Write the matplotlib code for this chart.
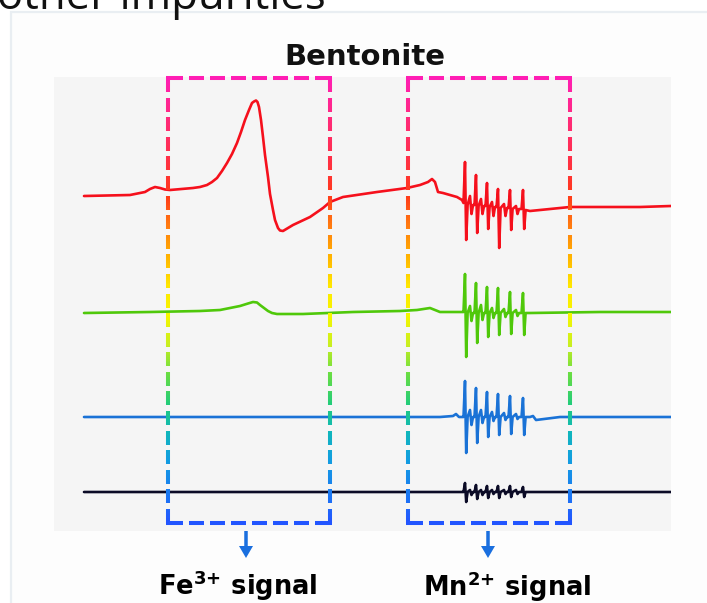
import numpy as np
import matplotlib
matplotlib.use("Agg")
import matplotlib.pyplot as plt
from matplotlib.collections import LineCollection
from matplotlib.colors import LinearSegmentedColormap, to_rgb
from matplotlib.patches import FancyArrow

plt.rcParams["mathtext.fontset"] = "dejavusans"

# ---------------------------------------------------------------- data
# EPR traces of bentonite fractions, (field, signal) with the signal axis
# pointing downwards, each trace sitting at its own vertical offset.
red_field = [84, 130, 145, 150, 155, 160, 165, 170, 193, 200, 207, 212, 217,
             222, 227, 232, 237, 241, 245, 249, 252, 254, 256, 257.5, 259,
             261, 263, 265, 268, 270, 273, 275, 278, 280, 283, 288, 293, 310,
             323, 330, 343, 377, 407, 420, 428, 432, 435, 438, 443, 457, 462]
red_signal = [196, 195, 192, 189, 187, 188, 189.5, 190, 188, 187, 185, 182,
              178, 171, 163, 154, 143, 132, 120, 110, 103, 101.5, 100.5, 102,
              107, 120, 137, 155, 177, 194, 210, 220, 228, 230.5, 231, 228,
              225, 217, 208, 202, 197, 192, 188, 185, 182, 179, 182, 192, 193,
              197, 200]
red_tail_field = [530, 550, 570, 600, 640, 671]
red_tail_signal = [211, 209, 207, 207, 207, 206]

green_field = [84, 150, 200, 220, 240, 248, 253, 257, 260, 264, 268, 272, 277,
               303, 353, 400, 417, 430, 440, 462]
green_signal = [313, 312, 311, 310, 306, 303.5, 302, 302.5, 305, 308, 311,
                313, 314, 314, 312, 311, 310, 308, 312, 312]
green_tail_field = [530, 600, 671]
green_tail_signal = [313, 312, 312]

blue_field = [84, 300, 440, 453, 456, 459, 462]
blue_signal = [417, 417, 417, 416, 414, 417, 417]
blue_tail_field = [530, 533, 536, 560, 671]
blue_tail_signal = [417, 416, 420, 417, 417]

black_field = [84, 300, 462]
black_signal = [492, 492, 492]
black_tail_field = [530, 671]
black_tail_signal = [492, 492]

# Mn2+ hyperfine sextet: line positions, upper and lower extremes
mn_pos = [465, 476, 487, 498, 510, 523]
red_top = [162, 175, 183, 189, 190, 190]
red_bot = [240, 233, 229, 248, 230, 229]
green_top = [274, 283, 287, 288, 292, 293]
green_bot = [357, 343, 337, 335, 334, 335]
blue_top = [381, 388, 392, 394, 396, 398]
blue_bot = [453, 443, 437, 435, 434, 435]
black_top = [483, 485, 486, 486, 486, 487]
black_bot = [502, 499, 498, 498, 497, 497]

# baseline level under the sextet and the weak lines between main lines
red_mid = [203, 205, 206, 207, 208, 209, 210]
red_weak = [(470, 196, 214), (481, 199, 214), (492, 202, 216), (504, 204, 216), (516, 206, 214)]
green_mid = [312, 313, 313, 313, 313, 313, 313]
green_weak = [(470, 306, 321), (481, 305, 320), (492, 308, 318), (504, 309, 317), (516, 310, 316)]
blue_mid = [417, 417, 417, 417, 417, 417, 417]
blue_weak = [(470, 410, 425), (481, 410, 423), (492, 412, 421), (504, 413, 420), (516, 414, 419)]
black_mid = [492, 492, 492, 492, 492, 492, 492]
black_weak = [(470, 490, 495), (481, 490, 495), (492, 490, 494), (504, 490, 494), (516, 490, 494)]

# field windows of the two signals
fe_window = (168, 330)
mn_window = (408, 570)
window_span = (78, 523)

colors = {"red": "#f5101c", "green": "#4fc80a", "blue": "#1a72d6", "black": "#0b0b26"}

# colour ramp of the window frames, listed against the signal axis
ramp_levels = [77, 120, 160, 195, 225, 255, 285, 315, 345, 375, 405, 430, 460, 490, 523]
ramp_colors = ["#ff1eb4", "#ff2a78", "#ff3044", "#ff3a1a", "#ff7a10", "#ffb000",
               "#ffe600", "#f6f600", "#c8ee20", "#66dd44", "#22cc7a", "#10b8b8",
               "#129ee0", "#1a7ff0", "#2255ff"]


def sextet(field, signal, top, bot, mid, weak, tail_f, tail_s):
    f = list(field)
    s = list(signal)
    weak_iter = iter(weak)
    for i, (p, t, b) in enumerate(zip(mn_pos, top, bot)):
        f += [p - 1.5, p, p + 1.2, p + 2.6]
        s += [mid[i], t, b, mid[i + 1]]
        w = next(weak_iter, None)
        if w is not None:
            f += [w[0], w[0] + 1.5, w[0] + 3]
            s += [w[1], w[2], mid[i + 1]]
    f += list(tail_f)
    s += list(tail_s)
    return np.array(f), np.array(s)


fig = plt.figure(figsize=(7.07, 6.03), dpi=100)
fig.patch.set_facecolor("white")

# page overlay in pixel units
page = fig.add_axes([0, 0, 1, 1])
page.set_xlim(0, 707)
page.set_ylim(603, 0)
page.axis("off")
page.add_patch(plt.Rectangle((12, 13), 700, 600, facecolor="#fdfdfd", edgecolor="none", zorder=0))
page.plot([11, 11, 720], [620, 12, 12], color="#e9eef2", lw=1.6, solid_joinstyle="miter")
page.text(-3, 9, "other impurities", fontsize=31.5, family="Open Sans", color="#111111",
          va="baseline", ha="left")

ax = fig.add_axes([54 / 707, (603 - 531) / 603, 617 / 707, 454 / 603])
ax.set_facecolor("#f5f5f5")
ax.set_xlim(54, 671)
ax.set_ylim(531, 77)
for sp in ax.spines.values():
    sp.set_visible(False)
ax.set_xticks([])
ax.set_yticks([])

traces = [
    ("red", red_field, red_signal, red_top, red_bot, red_mid, red_weak, red_tail_field, red_tail_signal),
    ("green", green_field, green_signal, green_top, green_bot, green_mid, green_weak, green_tail_field, green_tail_signal),
    ("blue", blue_field, blue_signal, blue_top, blue_bot, blue_mid, blue_weak, blue_tail_field, blue_tail_signal),
    ("black", black_field, black_signal, black_top, black_bot, black_mid, black_weak, black_tail_field, black_tail_signal),
]
for name, fld, sig, top, bot, mid, weak, tf, ts in traces:
    x, y = sextet(fld, sig, top, bot, mid, weak, tf, ts)
    ax.plot(x, y, color=colors[name], lw=1.9, solid_joinstyle="round",
            solid_capstyle="round", zorder=3)

# gradient dashed frames
cmap = LinearSegmentedColormap.from_list(
    "frame", [((v - ramp_levels[0]) / (ramp_levels[-1] - ramp_levels[0]), to_rgb(c))
              for v, c in zip(ramp_levels, ramp_colors)])


def ramp(yv):
    return cmap((np.clip(yv, ramp_levels[0], ramp_levels[-1]) - ramp_levels[0])
                / (ramp_levels[-1] - ramp_levels[0]))


def dashes(a, b, on=14.0, off=6.0):
    length = b - a
    n = max(1, int(round((length + off) / (on + off))))
    gap = (length - n * on) / (n - 1) if n > 1 else 0
    return [(a + k * (on + gap), a + k * (on + gap) + on) for k in range(n)]


lw_frame = 2.9
half = 2.0
for x0, x1 in (fe_window, mn_window):
    y0, y1 = window_span
    segs, cols = [], []
    for xv in (x0, x1):
        for a, b in dashes(y0, y1):
            ys = np.arange(a, b, 1.0)
            for ya in ys:
                yb = min(ya + 1.0, b)
                segs.append([(xv, ya), (xv, yb)])
                cols.append(ramp((ya + yb) / 2))
    for yv in (y0, y1):
        for a, b in dashes(x0, x1, on=15.0, off=6.0):
            aa = a - half if a <= x0 + 0.1 else a
            bb = b + half if b >= x1 - 0.1 else b
            segs.append([(aa, yv), (bb, yv)])
            cols.append(ramp(yv))
    lc = LineCollection(segs, colors=cols, linewidths=lw_frame, capstyle="butt",
                        zorder=4, clip_on=False)
    ax.add_collection(lc)

# title and signal labels
page.text(365, 65, "Bentonite", fontsize=21, family="DejaVu Sans", fontweight="bold",
          ha="center", va="baseline", color="#111111")

arrow_color = "#1a6fdf"
for xa in (246, 488):
    page.add_patch(FancyArrow(xa, 531, 0, 27, width=3.5, head_width=14, head_length=12,
                              length_includes_head=True, color=arrow_color, lw=0))

page.text(237.5, 595, r"Fe$^{\mathbf{3}{\mathbf{+}}}$ signal", fontsize=18.5, fontweight="bold",
          family="DejaVu Sans", ha="center", va="baseline", color="black")
page.text(507.5, 596, r"Mn$^{\mathbf{2}{\mathbf{+}}}$ signal", fontsize=18.5, fontweight="bold",
          family="DejaVu Sans", ha="center", va="baseline", color="black")

fig.savefig("out.png", dpi=100, facecolor="white")
